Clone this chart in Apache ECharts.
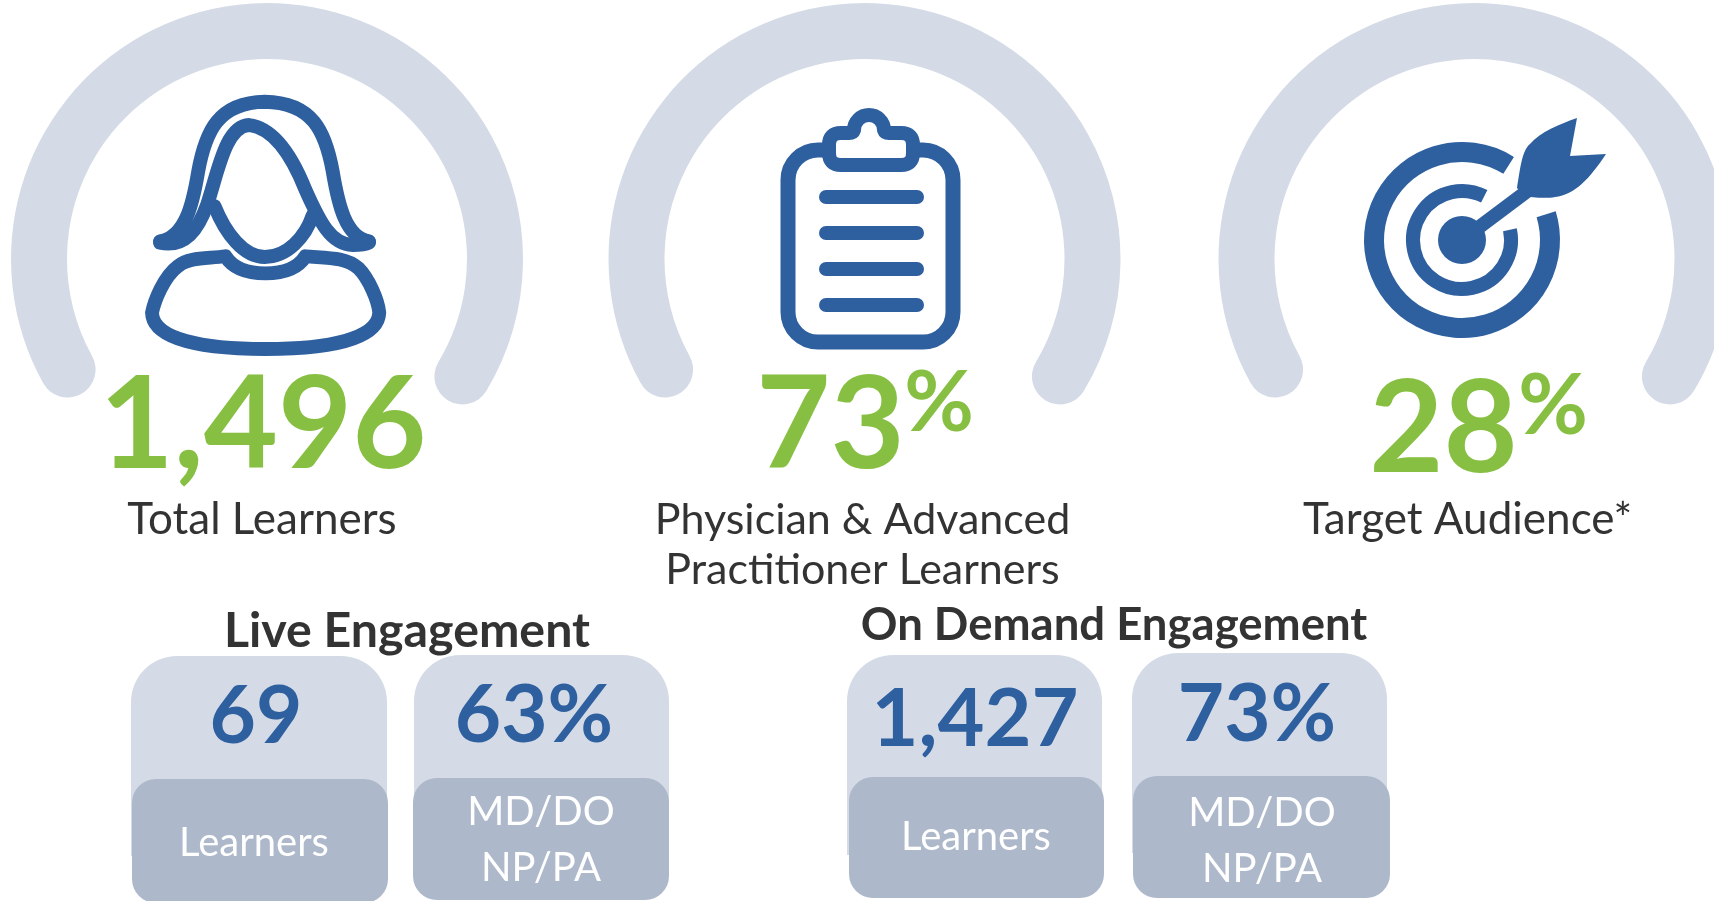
<!DOCTYPE html>
<html lang="en">
<head>
	<meta charset="UTF-8">
	<title>Learner engagement</title>
	<script src="https://cdn.jsdelivr.net/npm/echarts@6/dist/echarts.min.js"></script>
	<style>
		html,body{margin:0;padding:0;background:#fff;overflow:hidden}
	</style>
</head>
<body>
	<div id="app" style="width:1714px;height:901px"></div>

	<script>
		// top row
		var topValues=[1496,73,28];
		var topMax=[1496,100,100];
		var topSuffix=["","%","%"];
		var topLabels=["Total Learners","Physician & Advanced\nPractitioner Learners","Target Audience*"];

		// bottom cards
		var groupTitles=["Live Engagement","On Demand Engagement"];
		var cardValues=["69","63%","1,427","73%"];
		var cardLabels=["Learners","MD/DO\nNP/PA","Learners","MD/DO\nNP/PA"];

		var BLUE="#2e5f9f",GREEN="#86bf41",TRACK="#d4dbe6",DARK="#adb8ca",INK="#333333",FONT="Lato";

		var centers=[[267,259],[864.5,259],[1474.5,259]];
		var numberPos=[[-4,168],[-34,168],[-31,172]];
		var labelPos=[[-5,261],[-2,286],[-7,261]];
		var labelSize=[44,43,44];

		function fmt(v){return String(v).replace(/\B(?=(\d{3})+$)/g,",")}

		var series=topValues.map(function(v,i){
			return {
				type:"gauge",
				center:centers[i],
				radius:256,
				startAngle:209,
				endAngle:-31,
				min:0,
				max:topMax[i],
				pointer:{show:false},
				progress:{show:false},
				axisTick:{show:false},
				splitLine:{show:false},
				axisLabel:{show:false},
				axisLine:{roundCap:true,lineStyle:{width:56,color:[[1,TRACK]]}},
				title:{offsetCenter:labelPos[i],color:INK,fontFamily:FONT,fontSize:labelSize[i],lineHeight:50},
				detail:{offsetCenter:numberPos[i],color:GREEN,fontFamily:FONT,fontWeight:"bold",fontSize:128,formatter:fmt},
				data:[{value:v,name:topLabels[i]}]
			}
		});

		// percent signs next to the big numbers
		var pctPos=[null,[939,404],[1553,407]];
		var graphic=[];
		topSuffix.forEach(function(s,i){
			if(!s)return;
			graphic.push({type:"text",x:pctPos[i][0],y:pctPos[i][1],style:{text:s,fill:GREEN,font:"bold 85px "+FONT,align:"center",verticalAlign:"middle"},z:5});
		});

		function stroked(path,width,fill){
			return {type:"path",shape:{pathData:path},style:{stroke:width?BLUE:null,lineWidth:width,fill:fill||null,lineCap:"round",lineJoin:"round"}};
		}

		// icons go in a custom series since graphic has no svg path type
		var rad=Math.PI/180;
		var icons=[
			// person, drawn in a 2.75x space
			{type:"group",y:-3,scaleX:1/2.75,scaleY:1/2.75,children:[
				stroked("M440 672C510 660 530 570 545 480C565 370 600 290 728 288C860 290 895 370 915 480C930 570 950 660 1015 672",38),
				stroked("M440 676C510 690 545 640 570 570C600 480 620 355 685 352C750 360 800 430 840 530C880 620 910 680 970 682C990 682 1005 680 1015 675",38),
				stroked("M590 575C620 650 670 715 728 715C790 715 840 660 860 600",38),
				stroked("M620 713C640 745 680 760 730 760C780 760 820 745 840 713C900 718 950 715 985 745C1015 775 1040 835 1043 868C1040 942 900 968 730 968C560 968 420 942 418 868C425 835 450 770 490 740C520 715 570 720 620 713Z",38)
			]},
			// clipboard
			{type:"rect",shape:{x:788,y:150,width:165,height:192,r:30},style:{stroke:BLUE,lineWidth:15,fill:"#fff"}},
			stroked("M889 133Q885 133 884 130A15 15 0 0 0 854 130Q853 133 849 133H841Q829 133 829 145V153Q829 165 841 165H901Q913 165 913 153V145Q913 133 901 133Z",14,"#fff"),
			stroked("M826 197H917",14),
			stroked("M826 233H917",14),
			stroked("M826 269H917",14),
			stroked("M826 305H917",14),
			// target
			{type:"arc",shape:{cx:1462,cy:240,r:88,startAngle:-17*rad,endAngle:302*rad,clockwise:true},style:{stroke:BLUE,lineWidth:20,fill:null}},
			{type:"arc",shape:{cx:1462,cy:240,r:49,startAngle:-12*rad,endAngle:297*rad,clockwise:true},style:{stroke:BLUE,lineWidth:14,fill:null}},
			{type:"circle",shape:{cx:1462,cy:240,r:24},style:{fill:BLUE}},
			{type:"line",shape:{x1:1462,y1:240,x2:1530,y2:189},style:{stroke:BLUE,lineWidth:14}},
			stroked("M1577 118L1570 156L1606 154C1590 178 1575 195 1555 197C1545 199 1530 197 1525 196L1517 188C1520 170 1522 150 1530 144C1540 132 1560 124 1577 118Z",0,BLUE)
		];
		series.push({
			type:"custom",
			coordinateSystem:"none",
			silent:true,
			z:5,
			data:[0],
			renderItem:function(){
				return {type:"group",children:icons};
			}
		});

		// group headings
		var titlePos=[[407,631],[1114,625]];
		var titleSize=[48.3,45.5];
		groupTitles.forEach(function(t,i){
			graphic.push({type:"text",x:titlePos[i][0],y:titlePos[i][1],style:{text:t,fill:INK,font:"bold "+titleSize[i]+"px "+FONT,align:"center",verticalAlign:"middle"},z:6});
		});

		// cards: light box, dark box, number, caption
		var lightBox=[[131,656,256],[414,655,255],[847,655,255],[1132,653,255]];
		var darkBox=[[132,779,256,124],[413,778,256,122],[849,777,255,121],[1133,776,257,122]];
		var valuePos=[[256,717],[534,716],[975,720],[1257,715]];
		var captionPos=[[254,843],[541,840],[976,837],[1262,841]];
		var valueSize=[80,80,81,80];
		cardValues.forEach(function(v,i){
			var l=lightBox[i],d=darkBox[i];
			graphic.push({type:"rect",shape:{x:l[0],y:l[1],width:l[2],height:200,r:[46,46,0,0]},style:{fill:TRACK},z:2});
			graphic.push({type:"rect",shape:{x:d[0],y:d[1],width:d[2],height:d[3],r:24},style:{fill:DARK},z:3});
			graphic.push({type:"text",x:valuePos[i][0],y:valuePos[i][1],style:{text:v,fill:BLUE,font:"bold "+valueSize[i]+"px "+FONT,align:"center",verticalAlign:"middle"},z:6});
			graphic.push({type:"text",x:captionPos[i][0],y:captionPos[i][1],style:{text:cardLabels[i],fill:"#fff",font:"400 40px "+FONT,lineHeight:56,align:"center",verticalAlign:"middle"},z:6});
		});

		var myChart=echarts.init(document.getElementById("app"));
		var option={
			animation:false,
			backgroundColor:"#fff",
			series:series,
			graphic:{elements:graphic}
		};
		myChart.setOption(option);
	</script>
</body>
</html>
